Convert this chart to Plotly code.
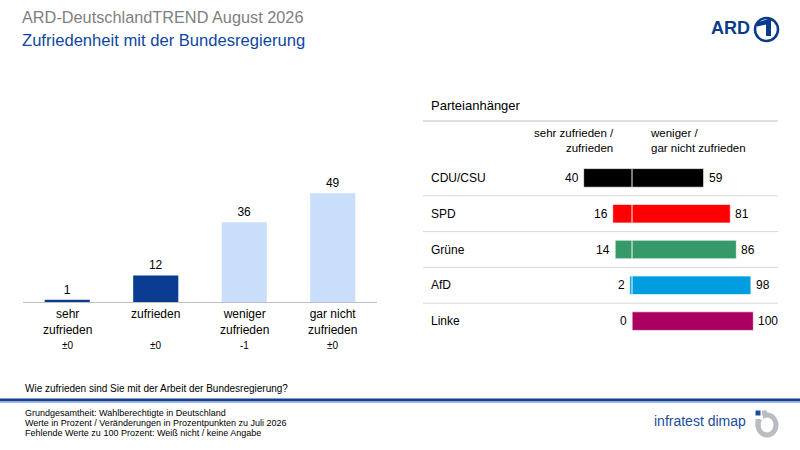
import plotly.graph_objects as go

# Gesamt-Zufriedenheit
categories = ["sehr zufrieden", "zufrieden", "weniger zufrieden", "gar nicht zufrieden"]
cat_labels = ["sehr<br>zufrieden", "zufrieden", "weniger<br>zufrieden", "gar nicht<br>zufrieden"]
values = [1, 12, 36, 49]
changes = ["±0", "±0", "-1", "±0"]

# Parteianhänger
parties = ["CDU/CSU", "SPD", "Grüne", "AfD", "Linke"]
party_pos = [40, 16, 14, 2, 0]
party_neg = [59, 81, 86, 98, 100]

bar_colors = ["#0a3d91", "#0a3d91", "#c9defa", "#c9defa"]
party_colors = ["#000000", "#ff0000", "#35996a", "#009de0", "#a90062"]

FONT = "Liberation Sans, Arial, sans-serif"
W, H = 800, 450
ARD_BLUE = "#0a3a8a"


def px(x, y):
    # pixel -> paper coordinates
    return x / W, 1 - y / H


def poly(points):
    pts = [px(x, y) for x, y in points]
    return "M " + " L ".join(f"{a},{b}" for a, b in pts) + " Z"


fig = go.Figure()

# left chart
fig.add_trace(go.Bar(
    x=categories, y=values,
    marker=dict(color=bar_colors, line=dict(width=0)),
    width=0.51,
    text=[str(v) for v in values], textposition="outside",
    textfont=dict(size=12, color="#000000"),
    cliponaxis=False,
    xaxis="x", yaxis="y", showlegend=False, hoverinfo="skip",
))

# right chart, bars split at zero
fig.add_trace(go.Bar(
    x=[-v for v in party_pos], y=list(range(len(parties))), orientation="h",
    marker=dict(color=party_colors, line=dict(color="white", width=0.7)),
    width=0.52, xaxis="x2", yaxis="y2", showlegend=False, hoverinfo="skip",
))
fig.add_trace(go.Bar(
    x=party_neg, y=list(range(len(parties))), orientation="h",
    marker=dict(color=party_colors, line=dict(color="white", width=0.7)),
    width=0.52, xaxis="x2", yaxis="y2", showlegend=False, hoverinfo="skip",
))

ann = []
shapes = []

# header
ann.append(dict(text="ARD-DeutschlandTREND August 2026", x=px(20, 0)[0], y=px(0, 17)[1],
                xref="paper", yref="paper", xanchor="left", yanchor="middle", showarrow=False,
                font=dict(size=16.3, color="#7f7f7f", family=FONT)))
ann.append(dict(text="Zufriedenheit mit der Bundesregierung", x=px(20, 0)[0], y=px(0, 40)[1],
                xref="paper", yref="paper", xanchor="left", yanchor="middle", showarrow=False,
                font=dict(size=16.6, color="#0e47a1", family=FONT)))

# ARD logo
ann.append(dict(text="<b>ARD</b>", x=px(752, 0)[0], y=px(0, 28)[1], xref="paper", yref="paper",
                xanchor="right", yanchor="middle", showarrow=False,
                font=dict(size=18, color=ARD_BLUE, family=FONT)))
cx0, cy0 = px(755, 18)
cx1, cy1 = px(778, 41)
shapes.append(dict(type="circle", xref="paper", yref="paper", x0=cx0, y0=cy1, x1=cx1, y1=cy0,
                   line=dict(color=ARD_BLUE, width=2.5)))
shapes.append(dict(type="path", xref="paper", yref="paper",
                   path=poly([(757, 22.5), (771, 18), (771, 36), (766, 36), (766, 24.5), (757, 26.5)]),
                   fillcolor=ARD_BLUE, line=dict(width=0)))

# left chart labels
for c, lab, ch in zip(categories, cat_labels, changes):
    ann.append(dict(text=lab, x=c, y=px(0, 305)[1], xref="x", yref="paper",
                    xanchor="center", yanchor="top", showarrow=False,
                    font=dict(size=12, color="#000000", family=FONT)))
    ann.append(dict(text=ch, x=c, y=px(0, 345)[1], xref="x", yref="paper",
                    xanchor="center", yanchor="middle", showarrow=False,
                    font=dict(size=10, color="#000000", family=FONT)))

# right panel header
ann.append(dict(text="Parteianhänger", x=px(429, 0)[0], y=px(0, 105)[1], xref="paper", yref="paper",
                xanchor="left", yanchor="middle", showarrow=False,
                font=dict(size=13, color="#000000", family=FONT)))
shapes.append(dict(type="line", xref="paper", yref="paper",
                   x0=px(423, 0)[0], x1=px(778, 0)[0], y0=px(0, 121)[1], y1=px(0, 121)[1],
                   line=dict(color="#bfbfbf", width=1)))
ann.append(dict(text="sehr zufrieden /<br>zufrieden", x=-13, y=px(0, 140)[1], xref="x2", yref="paper",
                xanchor="right", yanchor="middle", align="right", showarrow=False,
                font=dict(size=11.5, color="#000000", family=FONT)))
ann.append(dict(text="weniger /<br>gar nicht zufrieden", x=13, y=px(0, 140)[1], xref="x2", yref="paper",
                xanchor="left", yanchor="middle", align="left", showarrow=False,
                font=dict(size=11.5, color="#000000", family=FONT)))

for i, (p, lv, rv) in enumerate(zip(parties, party_pos, party_neg)):
    ann.append(dict(text=p, x=px(429, 0)[0], y=i, xref="paper", yref="y2",
                    xanchor="left", yanchor="middle", showarrow=False,
                    font=dict(size=12, color="#000000", family=FONT)))
    ann.append(dict(text=str(lv), x=-lv, y=i, xref="x2", yref="y2", xshift=-3,
                    xanchor="right", yanchor="middle", showarrow=False,
                    font=dict(size=12, color="#000000", family=FONT)))
    ann.append(dict(text=str(rv), x=rv, y=i, xref="x2", yref="y2", xshift=3,
                    xanchor="left", yanchor="middle", showarrow=False,
                    font=dict(size=12, color="#000000", family=FONT)))
    if i < len(parties) - 1:
        shapes.append(dict(type="line", xref="paper", yref="y2",
                           x0=px(423, 0)[0], x1=px(778, 0)[0], y0=i + 0.5, y1=i + 0.5,
                           line=dict(color="#d9d9d9", width=1)))

# question + footer
ann.append(dict(text="Wie zufrieden sind Sie mit der Arbeit der Bundesregierung?",
                x=px(23, 0)[0], y=px(0, 388)[1], xref="paper", yref="paper",
                xanchor="left", yanchor="middle", showarrow=False,
                font=dict(size=10, color="#000000", family=FONT)))
shapes.append(dict(type="rect", xref="paper", yref="paper", x0=0, x1=1,
                   y0=px(0, 401.5)[1], y1=px(0, 398.5)[1], line=dict(width=0), fillcolor="#123f91"))
shapes.append(dict(type="rect", xref="paper", yref="paper", x0=0, x1=1,
                   y0=px(0, 403)[1], y1=px(0, 401.5)[1], line=dict(width=0), fillcolor="#9db9e3"))
footer = ["Grundgesamtheit: Wahlberechtigte in Deutschland",
          "Werte in Prozent / Veränderungen in Prozentpunkten zu Juli 2026",
          "Fehlende Werte zu 100 Prozent: Weiß nicht / keine Angabe"]
for k, line in enumerate(footer):
    ann.append(dict(text=line, x=px(23, 0)[0], y=px(0, 413 + 10 * k)[1], xref="paper", yref="paper",
                    xanchor="left", yanchor="middle", showarrow=False,
                    font=dict(size=9, color="#000000", family=FONT)))

# infratest dimap logo
ann.append(dict(text="infratest dimap", x=px(748, 0)[0], y=px(0, 421)[1], xref="paper", yref="paper",
                xanchor="right", yanchor="middle", showarrow=False,
                font=dict(size=14, color="#1b4c9c", family="Liberation Sans Narrow, " + FONT)))
r0 = px(758, 415)
r1 = px(776, 435)
shapes.append(dict(type="circle", xref="paper", yref="paper", x0=r0[0], y0=r1[1], x1=r1[0], y1=r0[1],
                   line=dict(color="#b9bdc1", width=5)))
w0 = px(752, 408)
w1 = px(763, 420)
shapes.append(dict(type="rect", xref="paper", yref="paper", x0=w0[0], x1=w1[0], y0=w1[1], y1=w0[1],
                   line=dict(width=0), fillcolor="white"))
shapes.append(dict(type="rect", xref="paper", yref="paper", x0=px(755.5, 0)[0], x1=px(760.5, 0)[0],
                   y0=px(0, 427)[1], y1=px(0, 419)[1], line=dict(width=0), fillcolor="#b9bdc1"))
shapes.append(dict(type="rect", xref="paper", yref="paper", x0=px(762, 0)[0], x1=px(767, 0)[0],
                   y0=px(0, 415.5)[1], y1=px(0, 410.5)[1], line=dict(width=0), fillcolor="#b9bdc1"))
s0 = px(755.5, 410.5)
s1 = px(760.5, 415.5)
shapes.append(dict(type="rect", xref="paper", yref="paper", x0=s0[0], x1=s1[0], y0=s1[1], y1=s0[1],
                   line=dict(width=0), fillcolor="#1b4c9c"))

fig.update_layout(
    width=W, height=H,
    margin=dict(l=0, r=0, t=0, b=0),
    paper_bgcolor="white", plot_bgcolor="white",
    barmode="relative", bargap=0.3,
    font=dict(family=FONT, color="#000000"),
    xaxis=dict(domain=[23 / W, 377 / W], range=[-0.5, 3.5], showticklabels=False, ticks="",
               showline=True, linecolor="#bfbfbf", linewidth=1, showgrid=False, zeroline=False,
               fixedrange=True),
    yaxis=dict(domain=[1 - 302 / H, 1 - 170 / H], range=[0, 59.5], visible=False, fixedrange=True),
    xaxis2=dict(domain=[500 / W, 780 / W], range=[-109, 122], visible=False, fixedrange=True),
    yaxis2=dict(domain=[1 - 339 / H, 1 - 160 / H], range=[4.5, -0.5], visible=False, fixedrange=True),
    annotations=ann,
    shapes=shapes,
)

# page margin off so the 800x450 figure sits at the window corner
fig.write_html("out.html", config={"displayModeBar": False},
               post_script="document.body.style.margin='0';document.body.style.overflow='hidden';")
